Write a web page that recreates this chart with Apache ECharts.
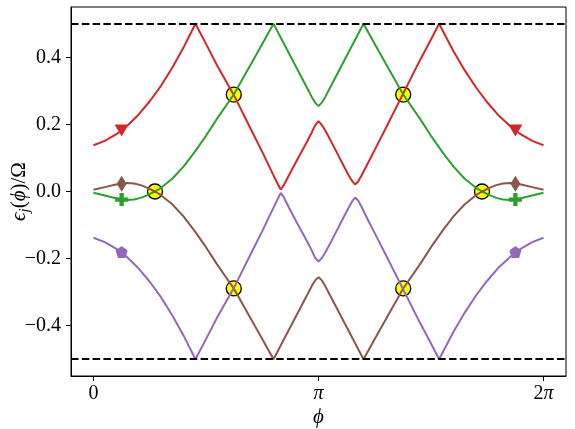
<!DOCTYPE html>
<html>
<head>
<meta charset="utf-8">
<script src="https://cdn.jsdelivr.net/npm/echarts@6/dist/echarts.min.js"></script>
<style>
  html, body { margin: 0; padding: 0; background: #fff; }
  #main { width: 575px; height: 429px; }
</style>
</head>
<body>
<div id="main"></div>
<script>
// phi is in units of pi
const redPhi = [0, 0.05, 0.1, 0.125, 0.15, 0.2, 0.25, 0.3, 0.35, 0.4,
  0.453, 0.5, 0.55, 0.6235, 0.7, 0.75, 0.8, 0.82, 0.832, 0.845,
  0.87, 0.9, 0.95, 0.97, 0.985, 1.0, 1.015, 1.03, 1.05, 1.08,
  1.11, 1.135, 1.15, 1.163, 1.176, 1.19, 1.22, 1.25, 1.3, 1.3735,
  1.45, 1.5, 1.536, 1.6, 1.65, 1.7, 1.75, 1.8, 1.85, 1.875,
  1.9, 1.95, 2.0];
const redVal = [0.138, 0.151, 0.170, 0.182, 0.196, 0.229, 0.269, 0.315, 0.369, 0.429,
  0.5, 0.44, 0.375, 0.288, 0.185, 0.118, 0.048, 0.021, 0.006, 0.018,
  0.05, 0.088, 0.150, 0.176, 0.197, 0.210, 0.198, 0.182, 0.157, 0.118,
  0.079, 0.047, 0.031, 0.021, 0.030, 0.046, 0.085, 0.124, 0.19, 0.288,
  0.39, 0.453, 0.5, 0.418, 0.361, 0.31, 0.266, 0.227, 0.196, 0.182,
  0.170, 0.151, 0.138];

const purplePhi = redPhi;
const purpleVal = [-0.138, -0.151, -0.170, -0.182, -0.196, -0.229, -0.269, -0.315, -0.369, -0.429,
  -0.5, -0.44, -0.375, -0.288, -0.185, -0.118, -0.048, -0.021, -0.004, -0.016,
  -0.05, -0.088, -0.150, -0.176, -0.197, -0.209, -0.198, -0.182, -0.157, -0.118,
  -0.079, -0.047, -0.029, -0.018, -0.027, -0.044, -0.085, -0.124, -0.19, -0.288,
  -0.39, -0.453, -0.5, -0.418, -0.361, -0.31, -0.266, -0.227, -0.196, -0.182,
  -0.170, -0.151, -0.138];

const greenPhi = [0, 0.05, 0.1, 0.125, 0.15, 0.18, 0.21, 0.24, 0.2733, 0.3,
  0.35, 0.4, 0.45, 0.5, 0.55, 0.6235, 0.7, 0.75, 0.8, 0.85,
  0.9, 0.95, 0.97, 0.985, 1.0, 1.015, 1.03, 1.05, 1.1, 1.15,
  1.2, 1.25, 1.3, 1.3765, 1.45, 1.5, 1.55, 1.6, 1.65, 1.7,
  1.7267, 1.76, 1.79, 1.82, 1.85, 1.875, 1.9, 1.95, 2.0];
const greenVal = [-0.004, -0.012, -0.020, -0.024, -0.025, -0.024, -0.019, -0.011, 0, 0.011,
  0.038, 0.074, 0.118, 0.166, 0.218, 0.289, 0.38, 0.44, 0.5, 0.436,
  0.372, 0.308, 0.282, 0.265, 0.2545, 0.265, 0.282, 0.308, 0.372, 0.436,
  0.5, 0.44, 0.38, 0.289, 0.218, 0.166, 0.118, 0.074, 0.038, 0.011,
  0, -0.011, -0.019, -0.024, -0.025, -0.024, -0.020, -0.012, -0.004];

const brownPhi = greenPhi;
const brownVal = [0.005, 0.013, 0.021, 0.023, 0.025, 0.024, 0.019, 0.011, 0, -0.011,
  -0.038, -0.074, -0.118, -0.166, -0.218, -0.289, -0.38, -0.44, -0.5, -0.436,
  -0.372, -0.308, -0.282, -0.265, -0.2555, -0.265, -0.282, -0.308, -0.372, -0.436,
  -0.5, -0.44, -0.38, -0.289, -0.218, -0.166, -0.118, -0.074, -0.038, -0.011,
  0, 0.011, 0.019, 0.024, 0.025, 0.023, 0.021, 0.013, 0.005];

// level crossings (yellow circles)
const crossPhi = [0.2733, 0.6235, 0.6235, 1.3765, 1.3765, 1.7267];
const crossVal = [0, 0.289, -0.289, 0.289, -0.289, 0];

// marker points on each curve
const markPhi = [0.125, 1.875];
const redMark = [0.182, 0.182];
const brownMark = [0.023, 0.023];
const greenMark = [-0.024, -0.024];
const purpleMark = [-0.18, -0.18];

const boundLevels = [0.5, -0.5];
const xTicks = [0, 1, 2];
const xTickLabels = ['0', '{it|π}', '2{it|π}'];
const yTicks = [-0.4, -0.2, 0, 0.2, 0.4];
const yTickLabels = ['−0.4', '−0.2', '0.0', '0.2', '0.4'];

const FONT = '"Liberation Serif", "DejaVu Serif", serif';
const pairs = (xs, ys) => xs.map((x, i) => [x, ys[i]]);

const chart = echarts.init(document.getElementById('main'));

const lineSeries = (name, color, xs, ys) => ({
  name: name,
  type: 'line',
  data: pairs(xs, ys),
  showSymbol: false,
  smooth: false,
  lineStyle: { color: color, width: 2 },
  z: 3
});

const markSeries = (color, symbol, size, ys, rotate) => ({
  type: 'scatter',
  data: pairs(markPhi, ys),
  symbol: symbol,
  symbolSize: size,
  symbolRotate: rotate || 0,
  itemStyle: { color: color, opacity: 1 },
  z: 4
});

chart.setOption({
  animation: false,
  grid: {
    left: 71, right: 9, top: 7, bottom: 53,
    outerBoundsMode: 'none',
    containLabel: false,
    show: true, borderColor: '#000', borderWidth: 1
  },
  xAxis: {
    type: 'value',
    min: -0.1,
    max: 2.1,
    name: 'ϕ',
    nameLocation: 'middle',
    nameGap: 31,
    nameMoveOverlap: false,
    nameTextStyle: { fontFamily: FONT, fontSize: 21, fontStyle: 'italic', color: '#000' },
    splitLine: { show: false },
    axisLine: { show: true, onZero: false, lineStyle: { color: '#000', width: 1 } },
    axisTick: { show: true, inside: false, length: 5, customValues: xTicks, lineStyle: { color: '#000' } },
    axisLabel: {
      customValues: xTicks,
      margin: 8,
      fontFamily: FONT, fontSize: 20, color: '#000',
      formatter: v => xTickLabels[xTicks.indexOf(v)],
      rich: { it: { fontFamily: FONT, fontSize: 20, fontStyle: 'italic', color: '#000' } }
    }
  },
  yAxis: {
    type: 'value',
    min: -0.55,
    max: 0.55,
    name: '{it|ϵ}{sub|j}{n|(}{it|ϕ}{n|)/Ω}',
    nameLocation: 'middle',
    nameRotate: 90,
    nameGap: 38,
    nameMoveOverlap: false,
    nameTextStyle: {
      fontFamily: FONT, fontSize: 20, color: '#000',
      rich: {
        it: { fontFamily: FONT, fontSize: 21, fontStyle: 'italic', color: '#000', lineHeight: 28 },
        n: { fontFamily: FONT, fontSize: 21, color: '#000', lineHeight: 28 },
        sub: { fontFamily: FONT, fontSize: 15, fontStyle: 'italic', color: '#000', lineHeight: 18, verticalAlign: 'bottom' }
      }
    },
    splitLine: { show: false },
    axisLine: { show: true, onZero: false, lineStyle: { color: '#000', width: 1 } },
    axisTick: { show: true, inside: false, length: 5, customValues: yTicks, lineStyle: { color: '#000' } },
    axisLabel: {
      customValues: yTicks,
      margin: 10,
      fontFamily: FONT, fontSize: 20, color: '#000',
      formatter: v => yTickLabels[yTicks.indexOf(v)]
    }
  },
  series: [
    {
      type: 'line',
      data: [],
      markLine: {
        silent: true,
        symbol: ['none', 'none'],
        label: { show: false },
        lineStyle: { color: '#000', width: 2, type: [7.5, 3.3] },
        data: boundLevels.map(v => ({ yAxis: v }))
      },
      z: 2
    },
    {
      type: 'scatter',
      data: pairs(crossPhi, crossVal),
      symbol: 'circle',
      symbolSize: 15,
      itemStyle: { color: '#ffff00', borderColor: '#000', borderWidth: 1.3, opacity: 1 },
      z: 1
    },
    lineSeries('red', '#d62728', redPhi, redVal),
    lineSeries('green', '#2ca02c', greenPhi, greenVal),
    lineSeries('brown', '#8c564b', brownPhi, brownVal),
    lineSeries('purple', '#9467bd', purplePhi, purpleVal),
    markSeries('#d62728', 'triangle', [14, 12], redMark, 180),
    markSeries('#8c564b', 'diamond', [10, 16], brownMark),
    markSeries('#2ca02c', 'path://M4,0H8V4H12V8H8V12H4V8H0V4H4Z', [13, 13], greenMark),
    markSeries('#9467bd', 'path://M50,0L97.6,34.5L79.4,90.5L20.6,90.5L2.4,34.5Z', [12, 12], purpleMark)
  ]
});
</script>
</body>
</html>
